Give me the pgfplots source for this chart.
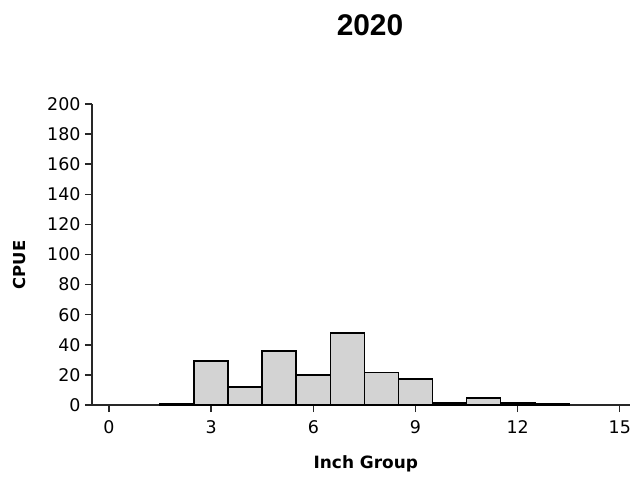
\documentclass[border=0pt]{standalone}
\usepackage{pgfplots}
\pgfplotsset{compat=1.18}
\usepackage{fontspec}
\setmainfont{DejaVu Sans}
\newfontfamily\titlefont{Liberation Sans}
\definecolor{barfill}{RGB}{211,211,211}
\definecolor{axcol}{RGB}{40,40,40}
\begin{document}
\begin{tikzpicture}
\begin{axis}[
  name=ax,
  at={(0,0)}, anchor=south west,
  scale only axis,
  width=538bp, height=301bp,
  xmin=-0.5, xmax=15.3,
  ymin=0, ymax=200,
  axis lines*=left,
  axis line style={-, line width=1.4bp, color=axcol},
  xtick={0,3,6,9,12,15},
  ytick={0,20,...,200},
  tick align=outside,
  major tick length=7bp,
  tick style={line width=1.4bp, color=axcol},
  /pgf/number format/assume math mode=true,
  ticklabel style={font=\fontsize{17.5}{20}\selectfont},
  xticklabel style={yshift=-5bp},
  yticklabel style={xshift=-1bp},
  xlabel={Inch Group},
  ylabel={CPUE},
  xlabel style={font=\bfseries\fontsize{17}{20}\selectfont, at={(axis description cs:0.509,-0.196)}, anchor=center},
  ylabel style={font=\bfseries\fontsize{16.5}{20}\selectfont, at={(axis description cs:-0.134,0.465)}, anchor=center},
  clip=false,
]
\addplot[ybar, bar width=1, fill=barfill, draw=black, line width=1.7bp] coordinates {
(2,1) (3,29.2) (4,12) (5,35.9) (6,19.9) (7,47.8) (8,21.5) (9,17.1) (10,1.5) (11,4.7) (12,1.5) (13,0.6)
};
\end{axis}
\node[font=\titlefont\bfseries\fontsize{30}{34}\selectfont, anchor=center] at ([shift={(278bp,380bp)}]ax.south west) {2020};
\pgfresetboundingbox
\path[use as bounding box] ([shift={(-92bp,-72bp)}]ax.south west) rectangle ([shift={(540bp,405bp)}]ax.south west);
\end{tikzpicture}
\end{document}
